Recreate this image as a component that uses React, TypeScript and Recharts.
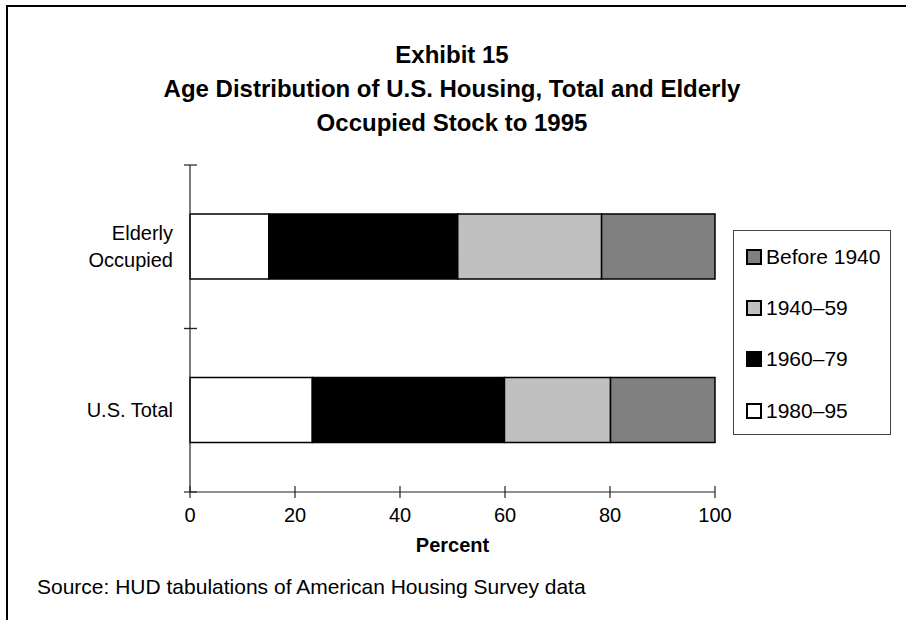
import { BarChart, Bar, XAxis, YAxis } from 'recharts';

const categories = ['Elderly Occupied', 'U.S. Total'];
const categoryLines = [['Elderly', 'Occupied'], ['U.S. Total']];
const s1980 = [15, 23.3];
const s1960 = [36, 36.6];
const s1940 = [27.4, 20.2];
const sBefore = [21.6, 19.9];
const xTicks = [0, 20, 40, 60, 80, 100];

const series = [
    { key: 'y1980', name: '1980–95', fill: '#ffffff' },
    { key: 'y1960', name: '1960–79', fill: '#000000' },
    { key: 'y1940', name: '1940–59', fill: '#c0c0c0' },
    { key: 'before', name: 'Before 1940', fill: '#808080' },
];

const data = categories.map((name, i) => ({
    name,
    y1980: s1980[i],
    y1960: s1960[i],
    y1940: s1940[i],
    before: sBefore[i],
}));

const W = 906;
const H = 620;
// plot area: x 190..715, y 165..492
const yAxisW = 190;
const xAxisH = 30;
const M = { top: 165, right: 191, bottom: 128 - xAxisH, left: 0 };
const halfBand = (H - M.top - M.bottom - xAxisH) / categories.length / 2;
const font = '"Liberation Sans", Arial, sans-serif';
const axisColor = '#222';

function YTick(props: any) {
    const { x, y, index } = props;
    const lines = categoryLines[index] || [props.payload.value];
    const lh = 27;
    const y0 = y - ((lines.length - 1) * lh) / 2;
    return (
        <g>
            <line x1={x - 6} x2={x + 7} y1={y - halfBand} y2={y - halfBand} stroke={axisColor} strokeWidth={1.2} />
            <line x1={x - 6} x2={x + 7} y1={y + halfBand} y2={y + halfBand} stroke={axisColor} strokeWidth={1.2} />
            {lines.map((t: string, i: number) => (
                <text key={t} x={x - 17} y={y0 + i * lh} textAnchor="end" dominantBaseline="central"
                    fontFamily={font} fontSize={20} fill="#000">{t}</text>
            ))}
        </g>
    );
}

function XTick(props: any) {
    const { x, y, payload } = props;
    return (
        <g>
            <line x1={x} x2={x} y1={y - 6} y2={y + 6} stroke={axisColor} strokeWidth={1.2} />
            <text x={x} y={y + 23} textAnchor="middle" dominantBaseline="central"
                fontFamily={font} fontSize={20} fill="#000">{payload.value}</text>
        </g>
    );
}

function LegendBox() {
    const items = [...series].reverse();
    return (
        <div style={{
            position: 'absolute', left: 733, top: 230,
            width: 158, height: 205, border: '1px solid #444', boxSizing: 'border-box',
            fontFamily: font, fontSize: 21, color: '#000',
        }}>
            {items.map((s) => (
                <div key={s.key} style={{ display: 'flex', alignItems: 'center', height: 51.3 }}>
                    <span style={{
                        display: 'inline-block', width: 12, height: 12, marginLeft: 12, marginRight: 4,
                        background: s.fill, border: '2px solid #000',
                    }} />
                    <span>{s.name}</span>
                </div>
            ))}
        </div>
    );
}

export default function App() {
    return (
        <div style={{ position: 'absolute', left: 0, top: 0, width: W, height: H, background: '#fff', fontFamily: font, overflow: 'hidden' }}>
            <div style={{
                position: 'absolute', left: 6, top: 5, width: W, height: H,
                borderLeft: '2px solid #000', borderTop: '2px solid #000',
            }} />
            <div style={{
                position: 'absolute', left: 0, top: 38, width: W - 2, textAlign: 'center',
                fontWeight: 'bold', fontSize: 24, lineHeight: '34px', color: '#000',
            }}>
                <div>Exhibit 15</div>
                <div>Age Distribution of U.S. Housing, Total and Elderly</div>
                <div>Occupied Stock to 1995</div>
            </div>
            <div style={{ position: 'absolute', left: 0, top: 0 }}>
                <BarChart width={W} height={H} data={data} layout="vertical" margin={M} barCategoryGap="30%">
                    <XAxis type="number" domain={[0, 100]} ticks={xTicks} interval={0} height={xAxisH}
                        stroke={axisColor} strokeWidth={1.2} tickLine={false} tickSize={0} tickMargin={0}
                        tick={<XTick />} />
                    <YAxis type="category" dataKey="name" stroke={axisColor} strokeWidth={1.2}
                        tickLine={false} tickSize={0} tickMargin={0} width={yAxisW} tick={<YTick />} />
                    {series.map((s) => (
                        <Bar key={s.key} dataKey={s.key} name={s.name} stackId="a" fill={s.fill}
                            stroke="#000" strokeWidth={1.5} isAnimationActive={false} />
                    ))}
                </BarChart>
            </div>
            <LegendBox />
            <div style={{
                position: 'absolute', left: 0, top: 533, width: 2 * yAxisW + (W - yAxisW - M.right),
                textAlign: 'center', fontWeight: 'bold', fontSize: 20, lineHeight: '24px',
            }}>Percent</div>
            <div style={{
                position: 'absolute', left: 37, top: 575, fontSize: 21, lineHeight: '24px',
            }}>Source: HUD tabulations of American Housing Survey data</div>
        </div>
    );
}
